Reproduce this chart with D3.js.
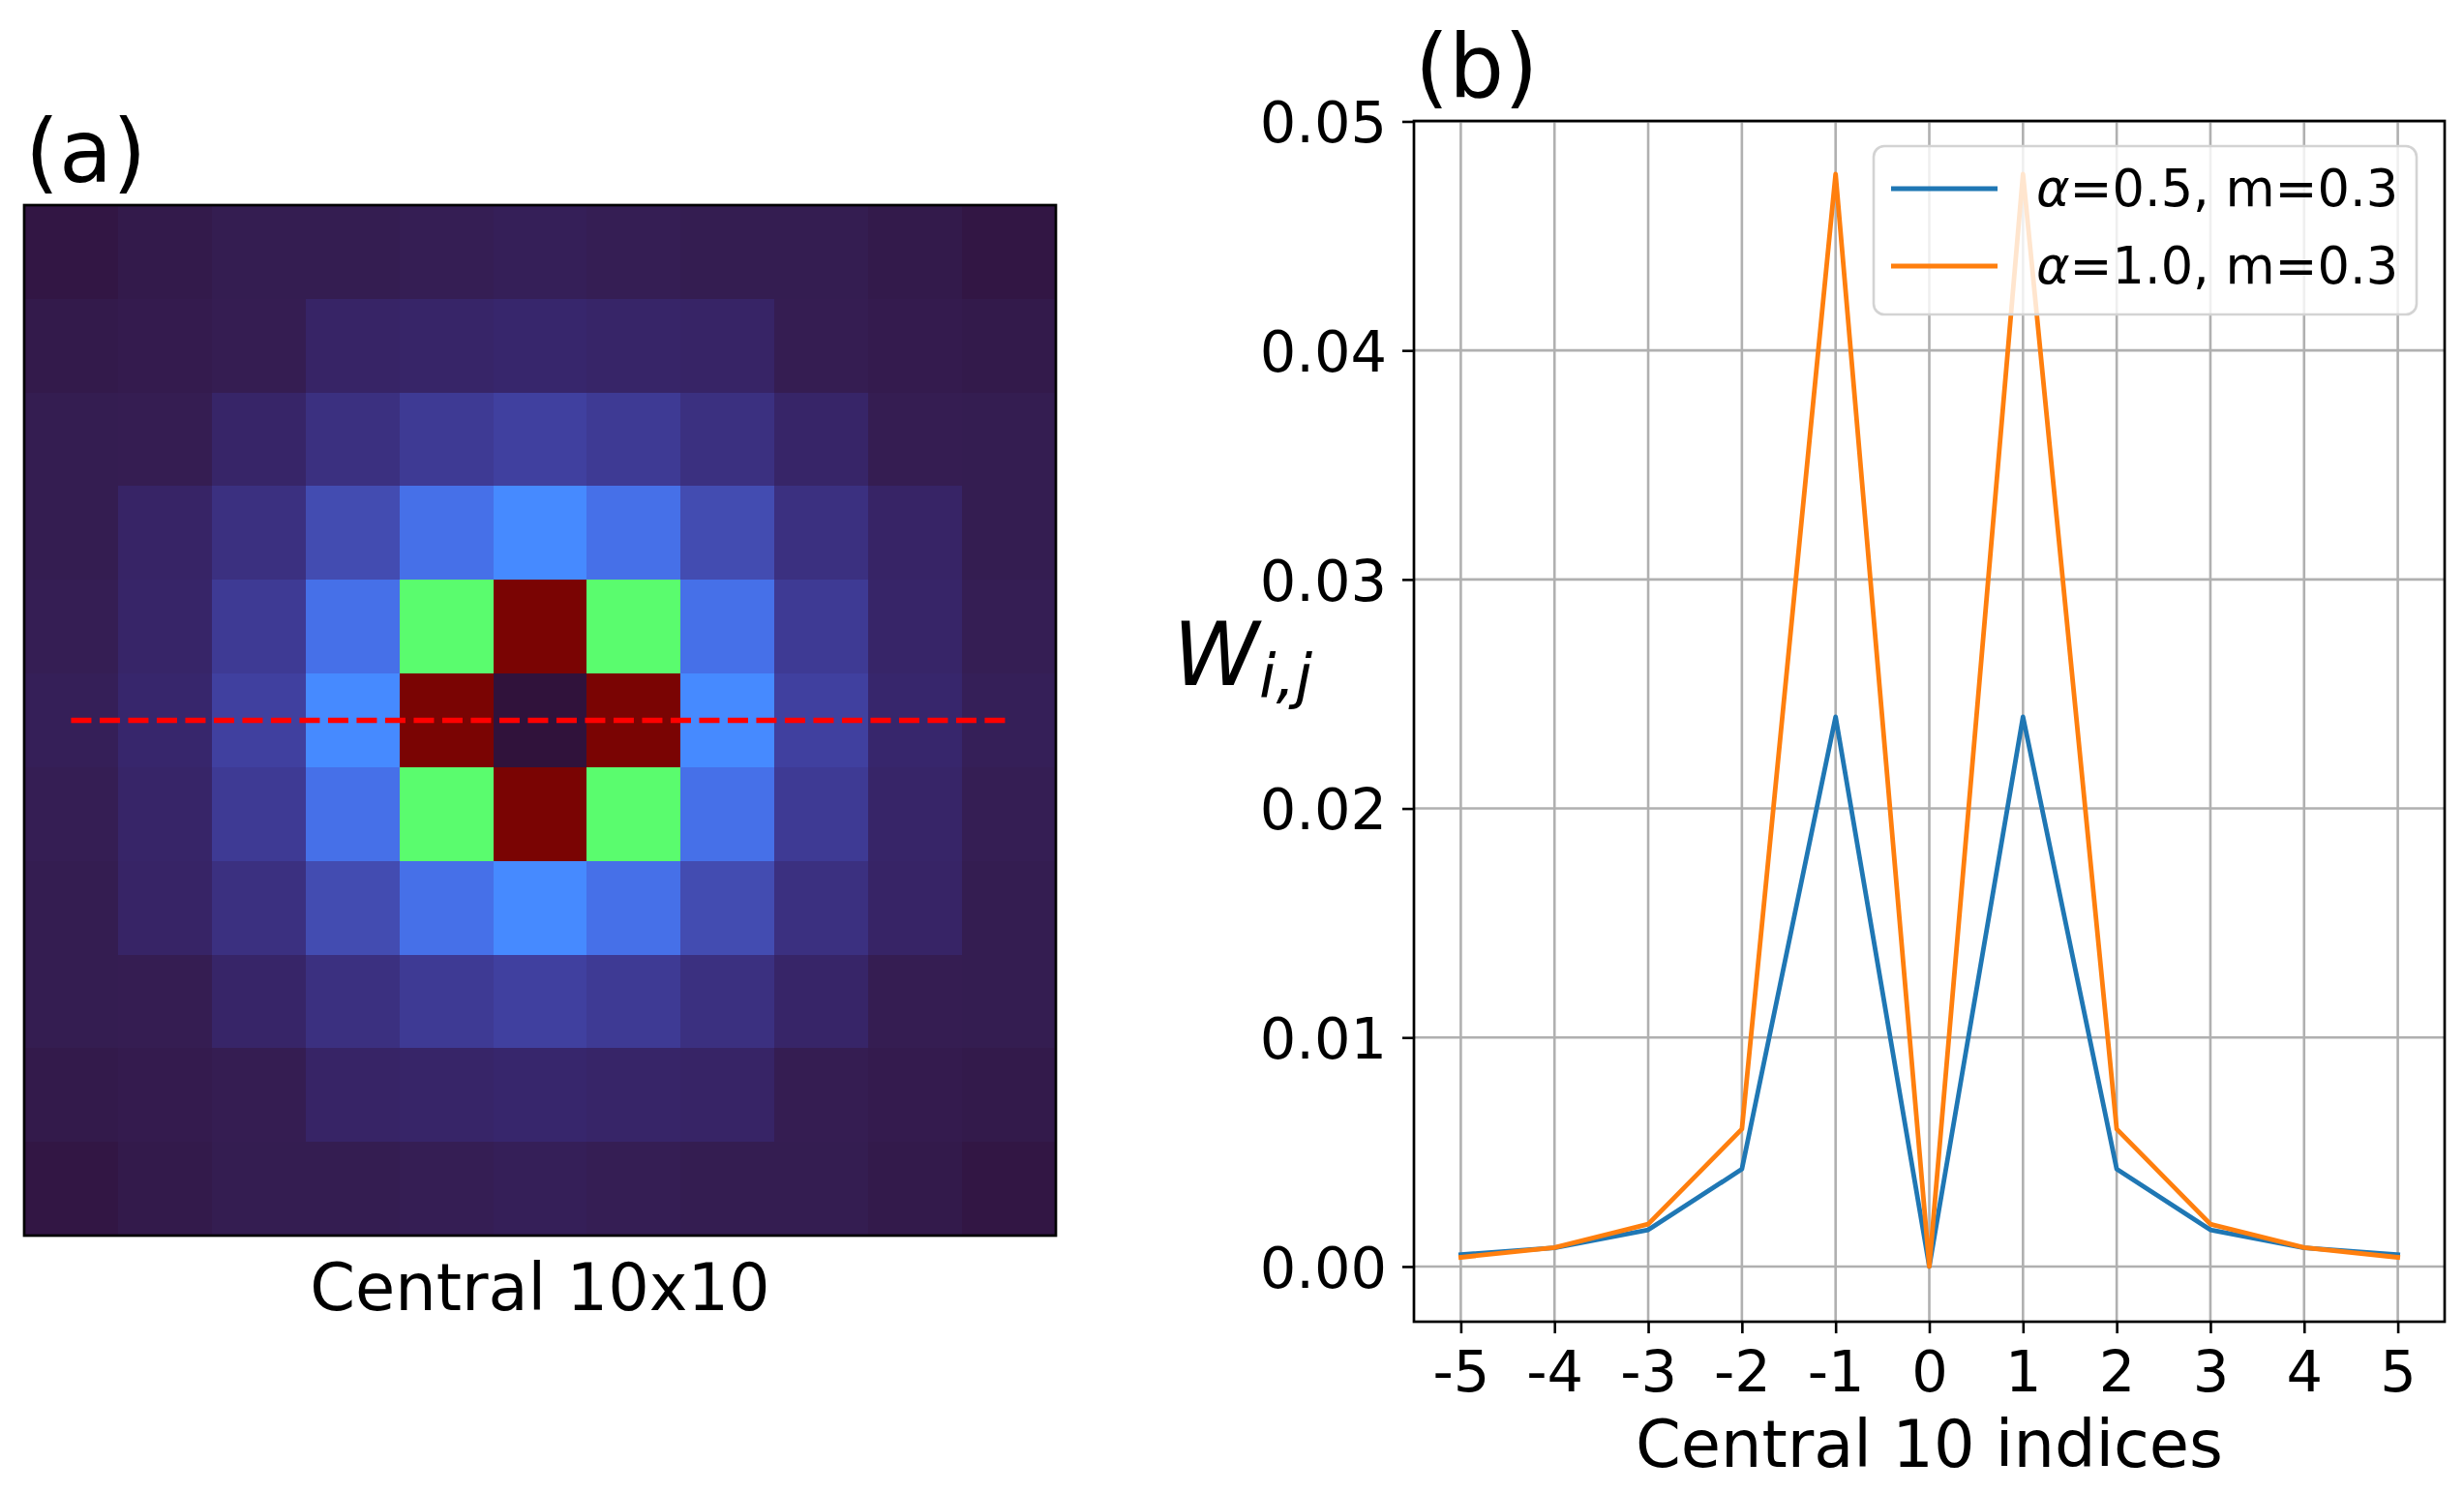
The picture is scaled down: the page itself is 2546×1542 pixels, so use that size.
<!DOCTYPE html>
<html>
<head>
<meta charset="utf-8">
<script src="https://cdn.jsdelivr.net/npm/d3@7"></script>
<style>
  html, body { margin: 0; padding: 0; background: #ffffff; }
  svg { display: block; }
  text { font-family: "DejaVu Sans", sans-serif; fill: #000; }
</style>
</head>
<body>
<script>
// ---------- DATA ----------
// Panel (a): central 11x11 block of W (alpha=0.5, m=0.3), read from the colours
const heatRows = [
  [0.00014, 0.00024, 0.00034, 0.00034, 0.00038, 0.00043, 0.00038, 0.00034, 0.00034, 0.00024, 0.00014],
  [0.00024, 0.00029, 0.00036, 0.00060, 0.00062, 0.00067, 0.00062, 0.00060, 0.00036, 0.00029, 0.00024],
  [0.00034, 0.00036, 0.00062, 0.00096, 0.00132, 0.00151, 0.00132, 0.00096, 0.00062, 0.00036, 0.00034],
  [0.00034, 0.00060, 0.00096, 0.00187, 0.00319, 0.00430, 0.00319, 0.00187, 0.00096, 0.00060, 0.00034],
  [0.00038, 0.00062, 0.00132, 0.00319, 0.01008, 0.02400, 0.01008, 0.00319, 0.00132, 0.00062, 0.00038],
  [0.00043, 0.00067, 0.00151, 0.00430, 0.02400, 0.00000, 0.02400, 0.00430, 0.00151, 0.00067, 0.00043],
  [0.00038, 0.00062, 0.00132, 0.00319, 0.01008, 0.02400, 0.01008, 0.00319, 0.00132, 0.00062, 0.00038],
  [0.00034, 0.00060, 0.00096, 0.00187, 0.00319, 0.00430, 0.00319, 0.00187, 0.00096, 0.00060, 0.00034],
  [0.00034, 0.00036, 0.00062, 0.00096, 0.00132, 0.00151, 0.00132, 0.00096, 0.00062, 0.00036, 0.00034],
  [0.00024, 0.00029, 0.00036, 0.00060, 0.00062, 0.00067, 0.00062, 0.00060, 0.00036, 0.00029, 0.00024],
  [0.00014, 0.00024, 0.00034, 0.00034, 0.00038, 0.00043, 0.00038, 0.00034, 0.00034, 0.00024, 0.00014]
];
// colormap (turbo-like) stops, as fractions of the max
const cmapStops  = [0, 0.016, 0.028, 0.040, 0.063, 0.078, 0.133, 0.179, 0.222, 0.333, 0.42, 0.444, 0.556, 0.667, 0.778, 0.889, 1];
const cmapColors = ["#30123b", "#351e54", "#37266c", "#3b3080", "#40409f", "#434cb1", "#4670e8", "#468aff",
                    "#36aaf9", "#1ae4b6", "#5afc6e", "#72fe5e", "#c8ef34", "#faba39", "#f66b19", "#cb2a04", "#7a0403"];

// Panel (b)
const xIndices = [-5, -4, -3, -2, -1, 0, 1, 2, 3, 4, 5];
const xTickLabels = ["-5", "-4", "-3", "-2", "-1", "0", "1", "2", "3", "4", "5"];
const yTicks = [0, 0.01, 0.02, 0.03, 0.04, 0.05];
const yTickLabels = ["0.00", "0.01", "0.02", "0.03", "0.04", "0.05"];
const seriesA05 = [0.00052, 0.00082, 0.00160, 0.00425, 0.02400, 0.00000, 0.02400, 0.00425, 0.00160, 0.00082, 0.00052];
const seriesA10 = [0.00040, 0.00083, 0.00185, 0.00600, 0.04770, 0.00000, 0.04770, 0.00600, 0.00185, 0.00083, 0.00040];
const seriesNames = ["=0.5, m=0.3", "=1.0, m=0.3"];
const seriesColors = ["#1f77b4", "#ff7f0e"];

// ---------- DRAW ----------
const W = 2546, H = 1542;
const svg = d3.select("body").append("svg").attr("width", W).attr("height", H);
svg.append("rect").attr("width", W).attr("height", H).attr("fill", "#fff");

// ----- panel (a) -----
const hm = { x0: 25, x1: 1091, y0: 212, y1: 1277 };
const n = heatRows.length;
const hx = d3.scaleBand().domain(d3.range(n)).range([hm.x0, hm.x1]);
const hy = d3.scaleBand().domain(d3.range(n)).range([hm.y0, hm.y1]);
const vmax = d3.max(heatRows.flat());
const color = d3.scaleLinear()
  .domain(cmapStops.map(s => s * vmax))
  .range(cmapColors)
  .interpolate(d3.interpolateRgb)
  .clamp(true);

const cells = [];
heatRows.forEach((row, r) => row.forEach((v, c) => cells.push({ r, c, v })));
svg.append("g").selectAll("rect").data(cells).join("rect")
  .attr("x", d => hx(d.c))
  .attr("y", d => hy(d.r))
  .attr("width", hx.bandwidth() + 0.6)
  .attr("height", hy.bandwidth() + 0.6)
  .attr("fill", d => color(d.v))
  .attr("shape-rendering", "crispEdges");

// dashed red line along the central row
const midRow = (n - 1) / 2;
svg.append("line")
  .attr("x1", hx(0) + hx.bandwidth() / 2)
  .attr("x2", hx(n - 1) + hx.bandwidth() / 2)
  .attr("y1", hy(midRow) + hy.bandwidth() / 2)
  .attr("y2", hy(midRow) + hy.bandwidth() / 2)
  .attr("stroke", "#ff0000")
  .attr("stroke-width", 5.5)
  .attr("stroke-dasharray", "21,8.5");

svg.append("rect")
  .attr("x", hm.x0).attr("y", hm.y0)
  .attr("width", hm.x1 - hm.x0).attr("height", hm.y1 - hm.y0)
  .attr("fill", "none").attr("stroke", "#000").attr("stroke-width", 2.7);

svg.append("text").attr("x", 26).attr("y", 188)
  .attr("font-size", 90).text("(a)");
svg.append("text").attr("x", (hm.x0 + hm.x1) / 2).attr("y", 1354)
  .attr("text-anchor", "middle").attr("font-size", 67).text("Central 10x10");

// ----- panel (b) -----
const ax = { x0: 1461, x1: 2526, y0: 125, y1: 1366 };
const x = d3.scaleLinear().domain([-5.5, 5.5]).range([ax.x0, ax.x1]);
const y = d3.scaleLinear().domain([-0.00241, 0.05002]).range([ax.y1, ax.y0]);

const grid = svg.append("g").attr("stroke", "#b0b0b0").attr("stroke-width", 2.6);
grid.selectAll("line.vx").data(xIndices).join("line").attr("class", "vx")
  .attr("x1", d => x(d)).attr("x2", d => x(d)).attr("y1", ax.y0).attr("y2", ax.y1);
grid.selectAll("line.hy").data(yTicks).join("line").attr("class", "hy")
  .attr("x1", ax.x0).attr("x2", ax.x1).attr("y1", d => y(d)).attr("y2", d => y(d));

const line = d3.line().x((d, i) => x(xIndices[i])).y(d => y(d));
[seriesA05, seriesA10].forEach((s, k) => {
  svg.append("path").datum(s)
    .attr("d", line)
    .attr("fill", "none")
    .attr("stroke", seriesColors[k])
    .attr("stroke-width", 4.8)
    .attr("stroke-linejoin", "round")
    .attr("stroke-linecap", "square");
});

// axes
const xAxis = d3.axisBottom(x).tickValues(xIndices)
  .tickFormat((d, i) => xTickLabels[i]).tickSize(12).tickPadding(18);
const gx = svg.append("g").attr("transform", `translate(0,${ax.y1})`).call(xAxis);
gx.select(".domain").remove();
gx.selectAll(".tick line").attr("stroke", "#000").attr("stroke-width", 2.6);
gx.selectAll(".tick text").attr("font-size", 59).attr("font-family", "DejaVu Sans").attr("fill", "#000");

const yAxis = d3.axisLeft(y).tickValues(yTicks)
  .tickFormat((d, i) => yTickLabels[i]).tickSize(12).tickPadding(16);
const gy = svg.append("g").attr("transform", `translate(${ax.x0},0)`).call(yAxis);
gy.select(".domain").remove();
gy.selectAll(".tick line").attr("stroke", "#000").attr("stroke-width", 2.6);
gy.selectAll(".tick text").attr("font-size", 59).attr("font-family", "DejaVu Sans")
  .attr("fill", "#000").attr("dy", "0.36em");

svg.append("rect")
  .attr("x", ax.x0).attr("y", ax.y0)
  .attr("width", ax.x1 - ax.x0).attr("height", ax.y1 - ax.y0)
  .attr("fill", "none").attr("stroke", "#000").attr("stroke-width", 2.7);

// legend
const lg = svg.append("g");
lg.append("rect")
  .attr("x", 1936).attr("y", 151).attr("width", 561).attr("height", 174)
  .attr("rx", 11).attr("ry", 11)
  .attr("fill", "#fff").attr("fill-opacity", 0.8)
  .attr("stroke", "#d3d3d3").attr("stroke-width", 2.6);
seriesNames.forEach((name, k) => {
  const by = 213 + k * 80;
  lg.append("line")
    .attr("x1", 1954).attr("x2", 2064).attr("y1", by - 18).attr("y2", by - 18)
    .attr("stroke", seriesColors[k]).attr("stroke-width", 4.8);
  const t = lg.append("text").attr("x", 2104).attr("y", by).attr("font-size", 52.5);
  t.append("tspan").attr("font-style", "italic").text("α");
  t.append("tspan").text(name);
});

// titles / labels
svg.append("text").attr("x", 1462).attr("y", 100).attr("font-size", 90).text("(b)");
svg.append("text").attr("x", (ax.x0 + ax.x1) / 2).attr("y", 1516)
  .attr("text-anchor", "middle").attr("font-size", 67).text("Central 10 indices");
const yl = svg.append("text").attr("x", 1212).attr("y", 708).attr("font-size", 90).attr("font-style", "italic");
yl.append("tspan").text("W");
yl.append("tspan").attr("font-size", 63).attr("dy", 12).text("i,j");
</script>
</body>
</html>
